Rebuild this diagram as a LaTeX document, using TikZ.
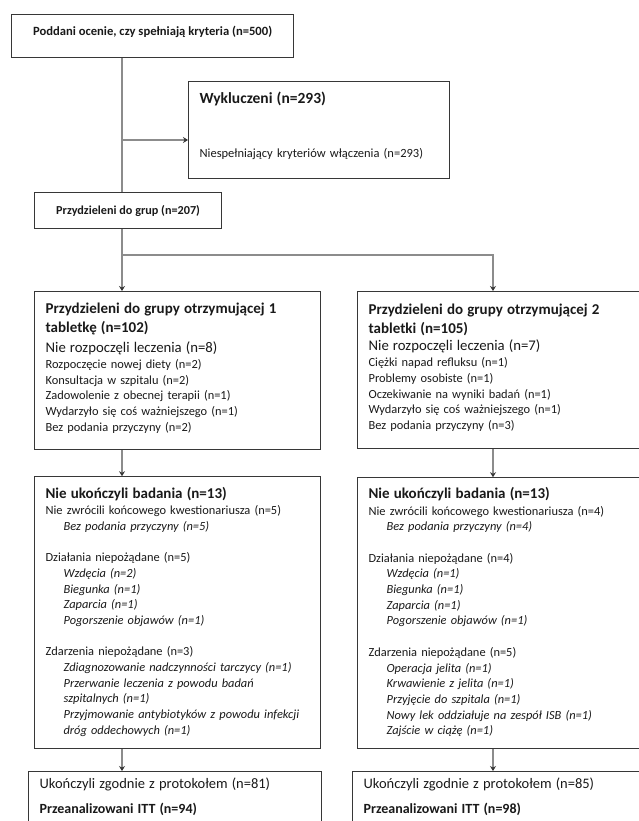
\documentclass[tikz,border=0pt]{standalone}
\usepackage{fontspec}
\setmainfont{Carlito}
\usetikzlibrary{arrows.meta, positioning}

\definecolor{framegray}{RGB}{55,55,55}
\definecolor{linkgray}{RGB}{140,140,140}
\newcommand{\reason}[1]{\hspace*{18pt}\mbox{\textit{#1}}}

\begin{document}
\begin{tikzpicture}[x=1pt, y=-1pt,
      % boxes of the flow chart
      box/.style={rectangle, draw=framegray, line width=1.2pt, anchor=north west, align=left, inner xsep=11pt, inner ysep=4pt, text=black!90, font=\fontsize{12.4}{15.7}\selectfont},
      headbox/.style={box, align=center, font=\fontsize{12.6}{14}\selectfont\bfseries},
      link/.style={draw=linkgray, line width=1.8pt},
      arrow/.style={link, -{Stealth[length=5pt, width=6pt, color=framegray]}}
    ]
    \useasboundingbox (0,0) rectangle (639,821);
    \clip (0,0) rectangle (639,821);

    % Enrolment
    \node[headbox, minimum width=282pt, minimum height=43pt] (start) at (11,14) {Poddani ocenie, czy spełniają kryteria (n=500)\rule[-11pt]{0pt}{0pt}};
    \node[box, minimum width=261pt, minimum height=97pt, text width=239pt] (excl) at (188,81) {{\fontsize{15.5}{17}\selectfont\bfseries Wykluczeni (n=293)}\\[39pt]
      {\fontsize{12.5}{15}\selectfont Niespełniający kryteriów włączenia (n=293)}\rule[-11pt]{0pt}{0pt}};
    \node[headbox, minimum width=187pt, minimum height=36pt, font=\fontsize{12.2}{14}\selectfont\bfseries] (alloc) at (34,192) {Przydzieleni do grup (n=207)};

    % Allocation
    \node[box, minimum height=158pt, text width=264pt] (grpA) at (34,291) {{\fontsize{15}{17}\selectfont\bfseries Przydzieleni do grupy otrzymującej 1\\[3.3pt] tabletkę (n=102)}\\[4.3pt]
      {\fontsize{14.75}{17}\selectfont Nie rozpoczęli leczenia (n=8)}\\
      Rozpoczęcie nowej diety (n=2)\\
      Konsultacja w szpitalu (n=2)\\
      Zadowolenie z obecnej terapii (n=1)\\
      Wydarzyło się coś ważniejszego (n=1)\\
      Bez podania przyczyny (n=2)\rule[-7pt]{0pt}{0pt}};
    \node[box, minimum height=157pt, text width=278pt] (grpB) at (357,291) {{\fontsize{15}{17}\selectfont\bfseries Przydzieleni do grupy otrzymującej 2\\[3.3pt] tabletki (n=105)}\\[2pt]
      {\fontsize{14.75}{17}\selectfont Nie rozpoczęli leczenia (n=7)}\\
      Ciężki napad refluksu (n=1)\\
      Problemy osobiste (n=1)\\
      Oczekiwanie na wyniki badań (n=1)\\
      Wydarzyło się coś ważniejszego (n=1)\\
      Bez podania przyczyny (n=3)\rule[-7pt]{0pt}{0pt}};

    % Follow-up
    \node[box, below=26pt of grpA, minimum height=272pt, text width=264pt] (lostA) {{\fontsize{15}{17}\selectfont\bfseries Nie ukończyli badania (n=13)}\\[0.5pt]
      Nie zwrócili końcowego kwestionariusza (n=5)\\
      \reason{Bez podania przyczyny (n=5)}\\[15.7pt]
      Działania niepożądane (n=5)\\
      \reason{Wzdęcia (n=2)}\\
      \reason{Biegunka (n=1)}\\
      \reason{Zaparcia (n=1)}\\
      \reason{Pogorszenie objawów (n=1)}\\[15.7pt]
      Zdarzenia niepożądane (n=3)\\
      \reason{Zdiagnozowanie nadczynności tarczycy (n=1)}\\
      \reason{Przerwanie leczenia z powodu badań}\\
      \reason{szpitalnych (n=1)}\\
      \reason{Przyjmowanie antybiotyków z powodu infekcji}\\
      \reason{dróg oddechowych (n=1)}\rule[-4pt]{0pt}{0pt}};
    \node[box, below=28pt of grpB, minimum height=271pt, text width=278pt] (lostB) {{\fontsize{15}{17}\selectfont\bfseries Nie ukończyli badania (n=13)}\\[0.5pt]
      Nie zwrócili końcowego kwestionariusza (n=4)\\
      \reason{Bez podania przyczyny (n=4)}\\[15.7pt]
      Działania niepożądane (n=4)\\
      \reason{Wzdęcia (n=1)}\\
      \reason{Biegunka (n=1)}\\
      \reason{Zaparcia (n=1)}\\
      \reason{Pogorszenie objawów (n=1)}\\[15.7pt]
      Zdarzenia niepożądane (n=5)\\
      \reason{Operacja jelita (n=1)}\\
      \reason{Krwawienie z jelita (n=1)}\\
      \reason{Przyjęcie do szpitala (n=1)}\\
      \reason{Nowy lek oddziałuje na zespół ISB (n=1)}\\
      \reason{Zajście w ciążę (n=1)}\rule[-4pt]{0pt}{0pt}};

    % Analysis
    \node[box, inner ysep=6pt, text width=271pt] (doneA) at (28,771) {{\fontsize{14.5}{16}\selectfont Ukończyli zgodnie z protokołem (n=81)}\\[10pt]
      {\fontsize{14}{16}\selectfont\bfseries Przeanalizowani ITT (n=94)}\rule[-40pt]{0pt}{0pt}};
    \node[box, inner ysep=6pt, text width=278pt] (doneB) at (352,771) {{\fontsize{14.5}{16}\selectfont Ukończyli zgodnie z protokołem (n=85)}\\[10pt]
      {\fontsize{14}{16}\selectfont\bfseries Przeanalizowani ITT (n=98)}\rule[-40pt]{0pt}{0pt}};

    % Connectors
    \coordinate (trunk) at (122,0);
    \coordinate (rtrunk) at (493,0);
    \coordinate (exclfork) at (122,140);
    \coordinate (grpfork) at (122,255);
    \draw[link] (start.south -| trunk) -- (alloc.north -| trunk);
    \draw[arrow] (exclfork) -- (exclfork -| excl.west);
    \draw[arrow] (alloc.south -| trunk) -- (grpA.north -| trunk);
    \draw[arrow] (grpfork) -| (grpB.north -| rtrunk);
    \draw[arrow] (grpA.south -| trunk) -- (lostA.north -| trunk);
    \draw[arrow] (grpB.south -| rtrunk) -- (lostB.north -| rtrunk);
    \draw[arrow] (lostA.south -| trunk) -- (doneA.north -| trunk);
    \draw[arrow] (lostB.south -| rtrunk) -- (doneB.north -| rtrunk);

  \end{tikzpicture}
\end{document}
